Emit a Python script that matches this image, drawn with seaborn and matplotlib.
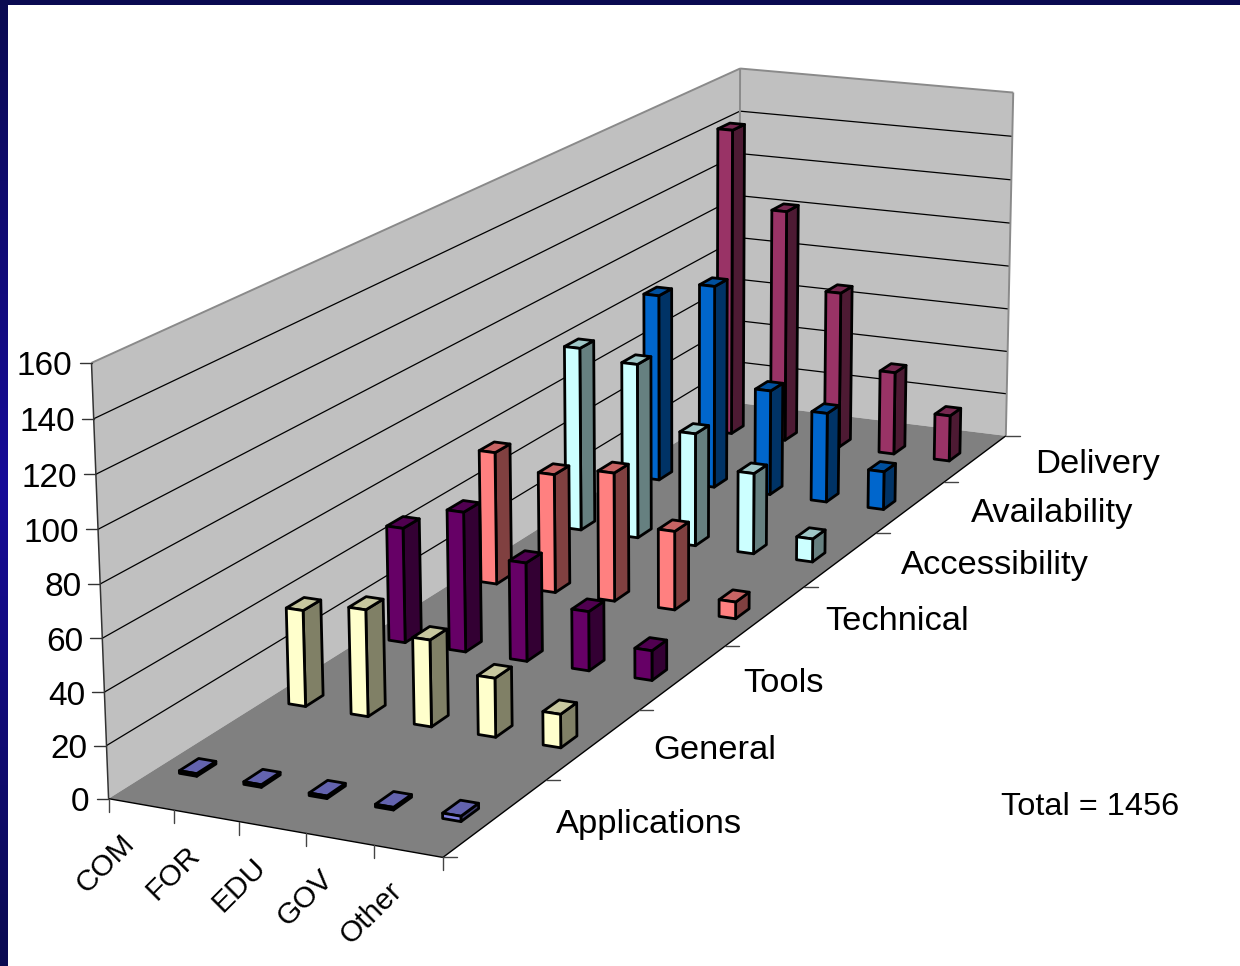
import numpy as np
import matplotlib
matplotlib.use("Agg")
import matplotlib.pyplot as plt
from matplotlib.patches import Polygon
import seaborn as sns

domains = ["COM", "FOR", "EDU", "GOV", "Other"]
topics = ["Applications", "General", "Tools", "Technical", "Accessibility", "Availability", "Delivery"]
applications = [1, 1, 1, 1, 2]
general = [38, 42, 34, 23, 13]
tools = [47, 57, 40, 24, 12]
technical = [56, 50, 54, 33, 7]
accessibility = [80, 76, 49, 35, 10]
availability = [84, 91, 47, 40, 17]
delivery = [142, 107, 72, 38, 21]
series = [applications, general, tools, technical, accessibility, availability, delivery]
series_colors = ["#7F7FDF", "#FFFFCC", "#660066", "#FF8080", "#CCFFFF", "#0066CC", "#993366"]
z_ticks = [0, 20, 40, 60, 80, 100, 120, 140, 160]
z_top = 160

sns.set_theme(style="white")
plt.rcParams["font.family"] = ["Liberation Sans", "DejaVu Sans"]
palette = sns.color_palette(series_colors)

fig = plt.figure(figsize=(12.4, 9.66), dpi=100)
ax = fig.add_axes([0, 0, 1, 1])
ax.set_xlim(0, 1240)
ax.set_ylim(966, 0)
ax.axis("off")

# Slide frame: a navy strip along the top and a vertical gradient strip on the left
t = np.abs(np.linspace(-1, 1, 256))[:, None]
strip = np.stack([0.09 - 0.05 * t, 0.04 + 0.0 * t, 0.60 - 0.28 * t], axis=-1)
ax.imshow(strip, extent=(0, 7.5, 966, 0), aspect="auto", zorder=5)
ax.imshow(strip[:1], extent=(0, 1240, 5.5, 0), aspect="auto", zorder=5)
ax.set_xlim(0, 1240)
ax.set_ylim(966, 0)

# Perspective camera fitted to the corners of the plot box (column, row, value) -> pixels
nx, ny = len(domains), len(topics)
corner_world = [(0, 0, 0), (nx, 0, 0), (0, ny, 0), (nx, ny, 0),
                (0, 0, z_top), (0, ny, z_top), (nx, ny, z_top)]
corner_screen = [(108, 798), (443, 858), (740, 404), (1005, 435),
                 (92, 363), (739, 68), (1014, 93)]
rows = []
for (X, Y, Z), (u, v) in zip(corner_world, corner_screen):
    rows.append([X, Y, Z, 1, 0, 0, 0, 0, -u * X, -u * Y, -u * Z, -u])
    rows.append([0, 0, 0, 0, X, Y, Z, 1, -v * X, -v * Y, -v * Z, -v])
camera = np.linalg.svd(np.array(rows, float))[2][-1].reshape(3, 4)


def project(x, y, z):
    p = camera @ np.array([x, y, z, 1.0])
    return p[0] / p[2], p[1] / p[2]


def face(points, **kw):
    ax.add_patch(Polygon([project(*q) for q in points], closed=True, **kw))


def edge(a, b, color="black", lw=0.9, z=2):
    pa, pb = project(*a), project(*b)
    ax.plot([pa[0], pb[0]], [pa[1], pb[1]], color=color, lw=lw, zorder=z, solid_capstyle="butt")


WALL, FLOOR, FRAME = "#C0C0C0", "#808080", "#8A8A8A"
face([(0, 0, 0), (0, ny, 0), (0, ny, z_top), (0, 0, z_top)], fc=WALL, ec="none", zorder=1)
face([(0, ny, 0), (nx, ny, 0), (nx, ny, z_top), (0, ny, z_top)], fc=WALL, ec="none", zorder=1)

for v in z_ticks[1:-1]:
    edge((0, 0, v), (0, ny, v))
    edge((0, ny, v), (nx, ny, v))
face([(0, 0, 0), (nx, 0, 0), (nx, ny, 0), (0, ny, 0)], fc=FLOOR, ec="none", zorder=2)

edge((0, 0, z_top), (0, ny, z_top), FRAME, 1.4)
edge((0, ny, z_top), (nx, ny, z_top), FRAME, 1.4)
edge((0, ny, 0), (0, ny, z_top), FRAME, 1.4)
edge((nx, ny, 0), (nx, ny, z_top), FRAME, 1.4)
edge((0, 0, 0), (0, 0, z_top), "#333333", 1.1, 3)
edge((0, 0, 0), (nx, 0, 0), "black", 1.0, 3)
edge((nx, 0, 0), (nx, ny, 0), "black", 1.0, 3)


def shade(rgb, k):
    return tuple(c * k for c in rgb)


# Columns are painted from the back row forward, left to right, so nearer ones overlap
bar_w, bar_d = 0.27, 0.17
order = 10
for j in range(ny - 1, -1, -1):
    rgb = palette[j]
    for i in range(nx):
        v = series[j][i]
        x0, x1 = i + 0.51 - bar_w / 2, i + 0.51 + bar_w / 2
        y0, y1 = j + 0.485 - bar_d / 2, j + 0.485 + bar_d / 2
        style = dict(ec="black", lw=2.0, joinstyle="round", zorder=order)
        face([(x1, y0, 0), (x1, y1, 0), (x1, y1, v), (x1, y0, v)], fc=shade(rgb, 0.5), **style)
        face([(x0, y0, v), (x1, y0, v), (x1, y1, v), (x0, y1, v)], fc=shade(rgb, 0.78), **style)
        face([(x0, y0, 0), (x1, y0, 0), (x1, y0, v), (x0, y0, v)], fc=rgb, **style)
        order += 1

# Value axis ticks and labels
for v in z_ticks:
    px, py = project(0, 0, v)
    ax.plot([px - 12, px], [py, py], color="#333333", lw=1.0, zorder=3)
    ax.text(px - 19, py + 4, str(v), ha="right", va="center", fontsize=24, color="black", zorder=20)

# Domain axis ticks and rotated labels
for i in range(nx + 1):
    px, py = project(i, 0, 0)
    ax.plot([px, px], [py, py + 13], color="#444444", lw=1.0, zorder=3)
for i, name in enumerate(domains):
    px, py = project(i + 0.5, 0, 0)
    ax.text(px - 11, py + 35, name, rotation=45, rotation_mode="anchor", ha="right", va="center",
            fontsize=21.5, color="black", zorder=20)

# Topic axis ticks and labels
for j in range(ny + 1):
    px, py = project(nx, j, 0)
    ax.plot([px, px + 14], [py, py], color="#444444", lw=1.0, zorder=3)
for j, name in enumerate(topics):
    px, py = project(nx, j + 0.5, 0)
    ax.text(px + 60, py + 6, name, ha="left", va="center", fontsize=24.8, color="black", zorder=20)

ax.text(1001, 807, "Total = 1456", ha="left", va="center", fontsize=23.4, color="black", zorder=20)

fig.savefig("out.png", dpi=100)
